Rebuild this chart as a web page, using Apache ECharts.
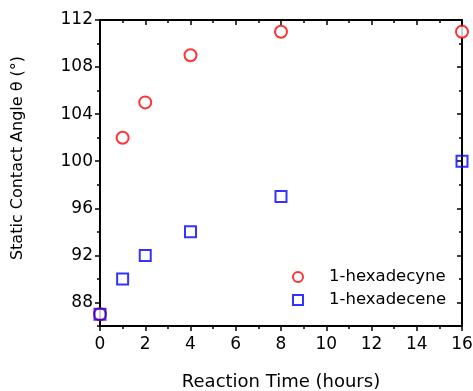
<!DOCTYPE html>
<html>
<head>
<meta charset="utf-8">
<script src="https://cdn.jsdelivr.net/npm/echarts@6/dist/echarts.min.js"></script>
<style>
  html, body { margin: 0; padding: 0; background: #fff; }
  #chart { width: 473px; height: 391px; }
</style>
</head>
<body>
<div id="chart"></div>
<script>
// Reaction time in hours and measured static contact angles (degrees)
const hours = [0, 1, 2, 4, 8, 16];
const hexadecyne = [87, 102, 105, 109, 111, 111];
const hexadecene = [87, 90, 92, 94, 97, 100];
const seriesNames = ['1-hexadecyne', '1-hexadecene'];
const yMajorTicks = [88, 92, 96, 100, 104, 108, 112];
const yMinorTicks = [86, 90, 94, 98, 102, 106, 110];

const FONT = 'DejaVu Sans';
const toPairs = (ys) => hours.map((h, i) => [h, ys[i]]);

const chart = echarts.init(document.getElementById('chart'), null, { renderer: 'canvas' });

const lineStyle = { color: '#000', width: 2 };
const tickText = { fontFamily: FONT, fontSize: 17, color: '#000' };
const baseX = { type: 'value', min: 0, max: 16, interval: 2, splitLine: { show: false } };
const baseY = { type: 'value', min: 86, max: 112, splitLine: { show: false } };

chart.setOption({
  animation: false,
  backgroundColor: '#fff',
  grid: { left: 100, right: 11, top: 20, bottom: 65, outerBoundsMode: 'none', containLabel: false },
  graphic: [{
    type: 'text',
    x: 18,
    y: 158,
    rotation: Math.PI / 2,
    style: {
      text: 'Static Contact Angle θ (°)',
      font: '16px "' + FONT + '"',
      fill: '#000',
      align: 'center',
      verticalAlign: 'middle'
    }
  }],
  legend: {
    orient: 'vertical',
    left: 292,
    top: 267,
    padding: 0,
    itemGap: 3,
    itemWidth: 10,
    itemHeight: 10,
    textStyle: { fontFamily: FONT, fontSize: 16.5, color: '#000', lineHeight: 20, padding: [0, 0, 0, 21] },
    data: seriesNames
  },
  xAxis: [
    Object.assign({}, baseX, {
      position: 'bottom',
      name: 'Reaction Time (hours)',
      nameLocation: 'middle',
      nameGap: 47,
      nameTextStyle: { fontFamily: FONT, fontSize: 18, color: '#000' },
      axisLine: { lineStyle },
      axisTick: { inside: false, length: 5, lineStyle: { width: 1.5 } },
      minorTick: { show: true, splitNumber: 2, length: 3, lineStyle: { color: '#000', width: 1.5 } },
      axisLabel: Object.assign({ margin: 10 }, tickText)
    }),
    Object.assign({}, baseX, {
      position: 'top',
      axisLine: { lineStyle },
      axisTick: { inside: true, length: 5, lineStyle: { width: 1.5 } },
      minorTick: { show: true, splitNumber: 2, length: 3, lineStyle: { color: '#000', width: 1.5 } },
      axisLabel: { show: false }
    })
  ],
  yAxis: [
    Object.assign({}, baseY, {
      position: 'left',
      axisLine: { lineStyle },
      axisTick: { inside: false, length: 5, customValues: yMajorTicks, lineStyle: { width: 1.5 } },
      axisLabel: Object.assign({ margin: 7, customValues: yMajorTicks }, tickText)
    }),
    Object.assign({}, baseY, {
      position: 'left',
      axisLine: { show: false },
      axisTick: { inside: false, length: 3, customValues: yMinorTicks, lineStyle: { color: '#000', width: 1.5 } },
      axisLabel: { show: false }
    }),
    Object.assign({}, baseY, {
      position: 'right',
      axisLine: { lineStyle },
      axisTick: { inside: true, length: 5, customValues: yMajorTicks, lineStyle: { width: 1.5 } },
      axisLabel: { show: false }
    }),
    Object.assign({}, baseY, {
      position: 'right',
      axisLine: { show: false },
      axisTick: { inside: true, length: 3, customValues: yMinorTicks, lineStyle: { color: '#000', width: 1.5 } },
      axisLabel: { show: false }
    })
  ],
  series: [
    {
      name: seriesNames[0],
      type: 'scatter',
      xAxisIndex: 0,
      yAxisIndex: 0,
      clip: false,
      symbol: 'circle',
      symbolSize: 12,
      itemStyle: { color: '#fff', borderColor: '#ff0000', borderWidth: 2 },
      data: toPairs(hexadecyne)
    },
    {
      name: seriesNames[1],
      type: 'scatter',
      xAxisIndex: 0,
      yAxisIndex: 0,
      clip: false,
      symbol: 'rect',
      symbolSize: 11,
      itemStyle: { color: 'rgba(255,255,255,0)', borderColor: '#0000ff', borderWidth: 2 },
      data: toPairs(hexadecene)
    }
  ]
});
</script>
</body>
</html>
